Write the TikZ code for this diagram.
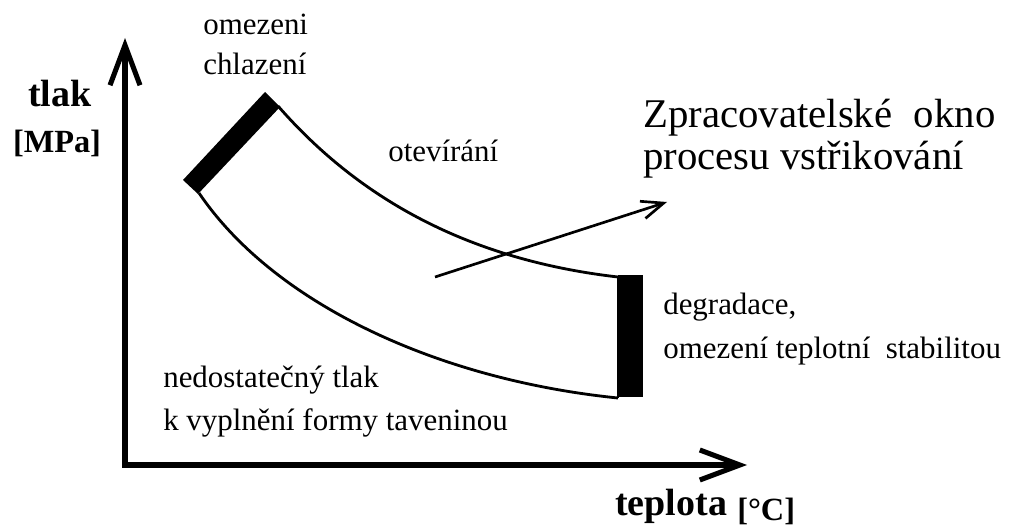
\documentclass[tikz,border=0pt]{standalone}
\usepackage{fontspec}
\setmainfont{Liberation Serif}
\usetikzlibrary{arrows.meta,positioning}
\tikzset{
	axisline/.style={line width=3.6pt, line join=miter,
		{Straight Barb[length=1cm, width=0.75cm]}-{Straight Barb[length=1cm, width=0.75cm]}},
	bound/.style={line width=2pt},
	limbar/.style={fill=black, draw=none},
	winarr/.style={line width=1.9pt, -{Straight Barb[length=0.55cm, width=0.45cm]}},
	lbl/.style={inner sep=0pt, anchor=base west, align=left, font=\fontsize{22}{30}\selectfont},
	axlbl/.style={inner sep=0pt, anchor=base, font=\bfseries\fontsize{27}{30}\selectfont},
	unitlbl/.style={inner sep=0pt, anchor=base, font=\bfseries\fontsize{23}{30}\selectfont}
}

\begin{document}
\begin{tikzpicture}[x=0.025cm, y=-0.025cm]
	\useasboundingbox (0,0) rectangle (1013,531);
	% axes
	\coordinate (origin) at (125,465);
	\coordinate (ytip) at (125,38);
	\coordinate (xtip) at (747,465);
	\draw[axisline] (ytip) -- (origin) -- (xtip);
	\node[axlbl] (tlak) at (60,107) {tlak};
	\node[unitlbl] (mpa) at (57,153) {[MPa]};
	\node[axlbl, anchor=base west] (teplota) at (615,515) {teplota};
	\node[unitlbl, anchor=base west] (degc) at (737,520) {[°C]};
	% processing window
	\fill[limbar] (183,180) -- (265,92) -- (280,107) -- (198,194) -- cycle;
	\fill[limbar] (618,275) rectangle (643,397);
	\draw[bound] (278,106) .. controls (360,200) and (470,260) .. (618,277);
	\draw[bound] (199,193) .. controls (275,305) and (440,380) .. (618,398);
	\draw[bound] (618,277) -- (618,398);
	% labels (base = last line)
	\node[lbl, font=\fontsize{22}{28.5}\selectfont] (chlaz) at (203,75) {omezeni\\chlazení};
	\node[lbl] (otev) at (388,162) {otevírání};
	\node[lbl, font=\fontsize{29}{30}\selectfont] (okno) at (643,170)
		{\makebox[8.8cm][s]{Zpracovatelské\hfill okno}\\procesu vstřikování};
	\node[lbl, font=\fontsize{22}{30.6}\selectfont] (degr) at (663,358)
		{degradace,\\omezení teplotní\ \ stabilitou};
	\node[lbl] (tlaknedost) at (163,430) {nedostatečný tlak\\k vyplnění formy taveninou};
	% window arrow
	\coordinate (winfrom) at (435,277);
	\coordinate (wintip) at (667,202);
	\draw[winarr] (winfrom) -- (wintip);
\end{tikzpicture}
\end{document}
